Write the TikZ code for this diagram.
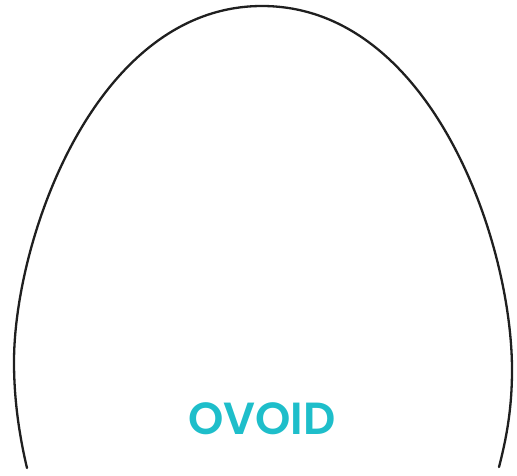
\documentclass[tikz,border=0pt]{standalone}
\usepackage{fontspec}
\newfontfamily\titlefont{Poppins SemiBold}
\definecolor{ovoidteal}{RGB}{30,190,202}

\begin{document}
\begin{tikzpicture}[
  x=1pt, y=-1pt,
  outline/.style={draw=black!88, line width=2.3pt, line cap=round},
  title/.style={font=\titlefont\fontsize{45}{45}\selectfont, text=ovoidteal, inner sep=0pt},
]
  \useasboundingbox (0,0) rectangle (517,475);

  % the open egg outline, left foot round the top to the right foot
  \draw[outline] (27,468) .. controls (18,430) and (14,395) .. (14,362)
    .. controls (14,240) and (95,6) .. (262,6)
    .. controls (430,6) and (512,240) .. (512,370)
    .. controls (512,410) and (506,440) .. (499,467);

  \node[title] (name) at (262,419) {OVOID};
\end{tikzpicture}
\end{document}
